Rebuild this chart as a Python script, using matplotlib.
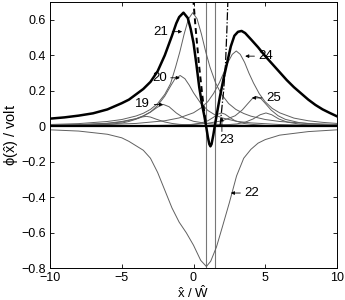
import matplotlib
matplotlib.use("Agg")
import matplotlib.pyplot as plt

plt.rcParams["font.family"] = ["Liberation Sans", "DejaVu Sans"]
plt.rcParams["mathtext.fontset"] = "custom"
plt.rcParams["mathtext.rm"] = "Liberation Sans"
plt.rcParams["mathtext.it"] = "Liberation Sans"

# total potential (thick curve)
X_TOTAL = [-10, -9, -8, -7, -6, -5, -4.5, -4, -3.5, -3, -2.5, -2, -1.5, -1.2, -1, -0.7,
           -0.4, -0.2, 0, 0.2, 0.4, 0.6, 0.75, 0.88, 1.0, 1.1, 1.18, 1.26, 1.38, 1.48,
           1.65, 1.85, 2.1, 2.35, 2.6, 2.85, 3.1, 3.35, 3.6, 4, 4.5, 5, 5.5, 6, 6.5, 7,
           7.5, 8, 8.5, 9, 9.5, 10]
Y_TOTAL = [0.043, 0.05, 0.06, 0.073, 0.095, 0.13, 0.15, 0.18, 0.21, 0.25, 0.31, 0.4, 0.51,
           0.58, 0.615, 0.64, 0.61, 0.55, 0.47, 0.35, 0.22, 0.12, 0.06, 0.0, -0.06, -0.1,
           -0.113, -0.1, -0.05, 0.0, 0.08, 0.17, 0.27, 0.36, 0.45, 0.51, 0.532, 0.537,
           0.525, 0.49, 0.445, 0.395, 0.35, 0.305, 0.26, 0.22, 0.185, 0.15, 0.12, 0.095,
           0.075, 0.056]

# single electrode contributions
X18 = [-10, -8, -6, -5, -4.5, -4, -3.6, -3.3, -3.0, -2.6, -2.0, -1.5, -1, 0, 1, 3, 6, 10]
Y18 = [0.004, 0.006, 0.011, 0.018, 0.027, 0.04, 0.052, 0.056, 0.052, 0.04, 0.024, 0.016,
       0.011, 0.006, 0.004, 0.002, 0.001, 0.0005]

X19 = [-10, -8, -6, -5, -4, -3.5, -3, -2.5, -2.1, -1.7, -1.2, -0.7, 0, 1, 2, 4, 7, 10]
Y19 = [0.006, 0.009, 0.016, 0.024, 0.042, 0.058, 0.08, 0.108, 0.123, 0.11, 0.075, 0.048,
       0.028, 0.015, 0.009, 0.004, 0.002, 0.001]

X20 = [-10, -8, -6, -5, -4, -3.5, -3, -2.5, -2, -1.6, -1.3, -0.93, -0.6, -0.3, 0, 0.5, 1,
       1.5, 2, 3, 4, 6, 8, 10]
Y20 = [0.006, 0.009, 0.017, 0.027, 0.043, 0.058, 0.08, 0.117, 0.17, 0.226, 0.266, 0.286,
       0.268, 0.232, 0.189, 0.13, 0.089, 0.064, 0.047, 0.028, 0.019, 0.01, 0.006, 0.004]

X21 = [-10, -8, -6, -5, -4, -3.5, -3, -2.5, -2, -1.6, -1.25, -0.95, -0.65, -0.35, -0.05,
       0.25, 0.55, 0.85, 1.15, 1.55, 1.95, 2.45, 2.95, 3.5, 4, 5, 6, 8, 10]
Y21 = [0.01, 0.015, 0.027, 0.038, 0.058, 0.073, 0.095, 0.128, 0.18, 0.24, 0.333, 0.42,
       0.52, 0.605, 0.64, 0.605, 0.52, 0.42, 0.333, 0.242, 0.18, 0.128, 0.095, 0.072,
       0.057, 0.038, 0.027, 0.016, 0.01]

X22 = [-10, -8, -6, -5, -4.5, -4, -3.5, -3, -2.5, -2, -1.5, -1, -0.5, 0, 0.5, 0.9, 1.2,
       1.6, 2, 2.5, 3, 3.5, 4, 4.5, 5, 6, 8, 10]
Y22 = [-0.02, -0.027, -0.045, -0.065, -0.085, -0.11, -0.135, -0.18, -0.26, -0.36, -0.46,
       -0.54, -0.6, -0.67, -0.755, -0.79, -0.76, -0.68, -0.57, -0.43, -0.28, -0.18, -0.13,
       -0.095, -0.075, -0.05, -0.03, -0.02]

X23 = [-10, -6, -3, -1, 0, 0.5, 1, 1.4, 1.7, 1.95, 2.2, 2.5, 2.9, 3.5, 4, 5, 7, 10]
Y23 = [0.0004, 0.001, 0.002, 0.005, 0.011, 0.018, 0.031, 0.051, 0.068, 0.075, 0.068,
       0.051, 0.031, 0.016, 0.011, 0.005, 0.002, 0.0008]

X24 = [-10, -8, -6, -4, -2, -1, 0, 0.5, 1, 1.4, 1.8, 2.1, 2.4, 2.7, 2.98, 3.26, 3.56, 3.86,
       4.18, 4.58, 4.98, 5.48, 6, 7, 8, 9, 10]
Y24 = [0.005, 0.0068, 0.01, 0.016, 0.031, 0.047, 0.076, 0.102, 0.139, 0.185, 0.245, 0.3,
       0.36, 0.405, 0.424, 0.405, 0.36, 0.3, 0.244, 0.184, 0.139, 0.101, 0.076, 0.046,
       0.031, 0.022, 0.016]

X25 = [-10, -6, -3, -1, 0, 1, 2, 2.9, 3.4, 3.8, 4.1, 4.4, 4.7, 5, 5.4, 5.9, 6.4, 7.4, 8.4, 10]
Y25 = [0.001, 0.002, 0.004, 0.007, 0.011, 0.017, 0.031, 0.059, 0.092, 0.129, 0.156, 0.168,
       0.156, 0.129, 0.092, 0.059, 0.039, 0.02, 0.012, 0.006]

X26 = [-10, -4, 0, 2, 3, 3.6, 4.15, 4.65, 5.05, 5.45, 5.95, 6.55, 7.55, 10]
Y26 = [0.0003, 0.001, 0.003, 0.007, 0.013, 0.023, 0.041, 0.065, 0.075, 0.065, 0.041,
       0.023, 0.01, 0.003]

# steep boundary curves
X_DASH = [-0.02, 0.15, 0.38, 0.58, 0.72, 0.85]
Y_DASH = [0.72, 0.55, 0.35, 0.2, 0.1, 0.02]
X_DASHDOT = [2.4, 2.33, 2.23, 2.1, 1.93, 1.85]
Y_DASHDOT = [0.72, 0.55, 0.35, 0.2, 0.066, 0.0]

# zero crossings of the total potential
X_CROSS = [0.88, 1.48]

THIN_CURVES = [(X18, Y18), (X19, Y19), (X20, Y20), (X21, Y21), (X22, Y22),
               (X23, Y23), (X24, Y24), (X25, Y25), (X26, Y26)]

# curve labels: text, text centre (x, y), arrow tip (x, y)
LABELS = [("21", (-2.29, 0.533), (-0.79, 0.533)),
          ("20", (-2.39, 0.273), (-0.95, 0.273)),
          ("19", (-3.54, 0.123), (-2.12, 0.123)),
          ("24", (5.05, 0.395), (3.6, 0.395)),
          ("25", (5.57, 0.16), (4.07, 0.16)),
          ("22", (4.07, -0.376), (2.6, -0.376)),
          ("23", (2.32, -0.075), (1.98, 0.066))]

X_TICKS = [-10, -5, 0, 5, 10]
Y_TICKS = [-0.8, -0.6, -0.4, -0.2, 0, 0.2, 0.4, 0.6]
Y_TICK_LABELS = ["\u22120.8", "\u22120.6", "\u22120.4", "\u22120.2", "0", "0.2", "0.4", "0.6"]
X_TICK_LABELS = ["\u221210", "\u22125", "0", "5", "10"]


fig = plt.figure(figsize=(3.45, 3.0), dpi=100)
ax = fig.add_axes([50 / 345, 31.7 / 300, 287 / 345, 266.3 / 300])

thin = "#606060"
ax.axhline(0, color="black", lw=1.6, zorder=3)
for xv in X_CROSS:
    ax.axvline(xv, color="#777777", lw=0.8)
for xs, ys in THIN_CURVES:
    ax.plot(xs, ys, color=thin, lw=0.7)
ax.plot(X_TOTAL, Y_TOTAL, color="black", lw=1.8, zorder=4)
ax.plot(X_DASH, Y_DASH, color="black", lw=1.4, ls=(0, (3, 2)))
ax.plot(X_DASHDOT, Y_DASHDOT, color="black", lw=0.9, ls="-.")

for text, pos, tip in LABELS:
    if text == "23":
        # label sits below and right of a vertical arrow
        ax.text(pos[0], pos[1], text, ha="center", va="center", fontsize=9.5)
        ax.annotate("", xy=tip, xytext=(tip[0], -0.045),
                    arrowprops=dict(arrowstyle="-|>", color="black", lw=0.6,
                                    mutation_scale=5))
        continue
    ax.annotate(text, xy=tip, xytext=pos, ha="center", va="center", fontsize=9.5,
                arrowprops=dict(arrowstyle="-|>", color="black", lw=0.6,
                                mutation_scale=5, shrinkA=1, shrinkB=0))

ax.set_xlim(-10, 10)
ax.set_ylim(-0.8, 0.7)
ax.set_xticks(X_TICKS)
ax.set_xticklabels(X_TICK_LABELS)
ax.set_yticks(Y_TICKS)
ax.set_yticklabels(Y_TICK_LABELS)
ax.tick_params(direction="in", top=True, right=True, length=3, width=0.6,
               labelsize=9)
ax.tick_params(axis="x", pad=3)
ax.tick_params(axis="y", pad=3)
for label in ax.get_yticklabels():
    label.set_verticalalignment("center_baseline")
for spine in ax.spines.values():
    spine.set_linewidth(0.7)

ax.set_xlabel(r"$\hat{x}$ / $\hat{W}$", fontsize=9.5, labelpad=0)
ax.set_ylabel(r"$\phi(\hat{x})$ / volt", fontsize=10.5, labelpad=0)

fig.savefig("out.png", dpi=100)
